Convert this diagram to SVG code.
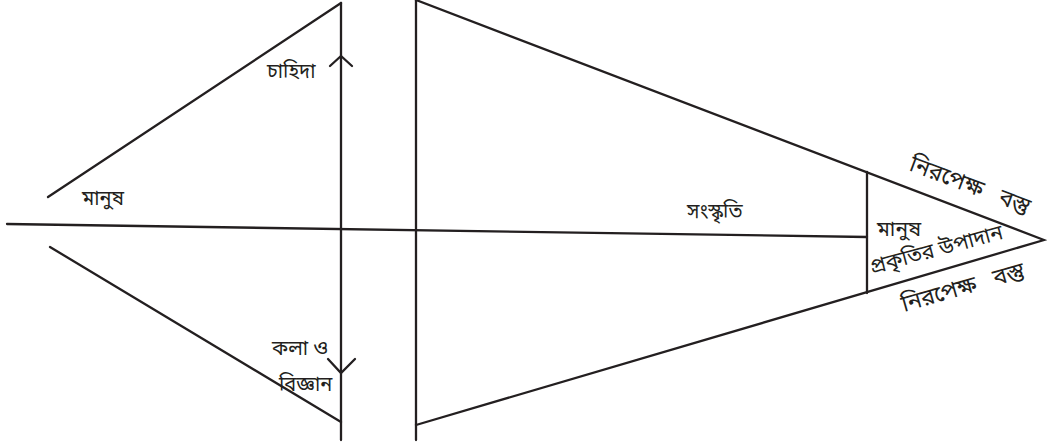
<svg xmlns="http://www.w3.org/2000/svg" width="1047" height="448" viewBox="0 0 1047 448">
<style>
.ln{stroke:#231f20;stroke-width:2.3;fill:none;stroke-linecap:round}
.t{font-family:"Noto Sans Bengali","Lohit Bengali","Noto Sans","DejaVu Sans",sans-serif;font-size:20px;fill:#231f20}
.r{font-size:21px}
.n{font-size:23px}
</style>
<rect width="1047" height="448" fill="#fff"/>
<g id="connectors">
<line class="ln" x1="7" y1="224" x2="867" y2="237"/>
<line class="ln" x1="341" y1="3" x2="341" y2="440"/>
<line class="ln" x1="48" y1="197" x2="341" y2="3"/>
<line class="ln" x1="50" y1="247" x2="341" y2="422"/>
<polyline class="ln" points="330,66 341,56 352,66"/>
<polyline class="ln" points="328,359 341,373 355,359"/>
<line class="ln" x1="416" y1="0" x2="416" y2="440"/>
<polyline class="ln" points="416,0 1044,240 416,425"/>
<line class="ln" x1="867" y1="172" x2="867" y2="293"/>
</g>
<g id="node-chahida"><text class="t" x="267" y="78">চাহিদা</text></g>
<g id="node-manush-left"><text class="t" x="82" y="205">মানুষ</text></g>
<g id="node-kola"><text class="t" x="272" y="355">কলা ও</text></g>
<g id="node-biggan"><text class="t" x="279" y="391">বিজ্ঞান</text></g>
<g id="node-sanskriti"><text class="t" x="687" y="218">সংস্কৃতি</text></g>
<g id="node-manush-right"><text class="t r" x="877" y="236">মানুষ</text></g>
<g id="node-prakriti"><text class="t r" transform="translate(872,274) rotate(-15)">প্রকৃতির উপাদান</text></g>
<g id="node-nirapeksha-top"><text class="t n" transform="translate(908,170) rotate(20.5)" xml:space="preserve">নিরপেক্ষ   বস্তু</text></g>
<g id="node-nirapeksha-bottom"><text class="t n" transform="translate(904,312) rotate(-16)" xml:space="preserve">নিরপেক্ষ   বস্তু</text></g>
</svg>
